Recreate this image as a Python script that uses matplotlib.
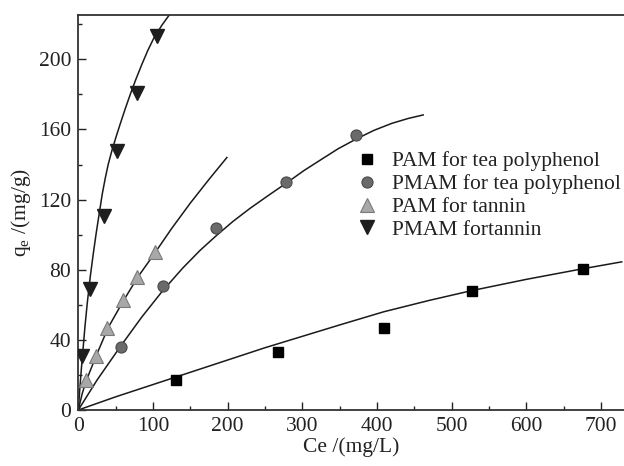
import matplotlib
matplotlib.use('Agg')
import matplotlib.pyplot as plt
from matplotlib.ticker import MultipleLocator

plt.rcParams['font.family'] = ['Liberation Serif', 'DejaVu Serif']
plt.rcParams['mathtext.fontset'] = 'custom'
plt.rcParams['mathtext.rm'] = 'Liberation Serif'
plt.rcParams['mathtext.it'] = 'Liberation Serif:italic'

# measured points
pam_tea_ce = [131, 268, 410, 527, 676]
pam_tea_q = [17, 33, 47, 68, 80.5]
pmam_tea_ce = [57, 113, 185, 278, 372]
pmam_tea_q = [35.7, 71, 103.7, 130, 156.7]
pam_tan_ce = [10, 24, 39, 60, 79, 103]
pam_tan_q = [17, 31, 47, 62.5, 76, 90]
pmam_tan_ce = [5, 15, 34, 52, 79, 106]
pmam_tan_q = [31, 69, 110.5, 148, 181, 213.5]

# fitted curves
fit_pam_tea_ce = [0, 50, 100, 150, 200, 250, 300, 350, 409, 470, 526, 600, 675, 728]
fit_pam_tea_q = [0, 7.5, 14.5, 21.5, 28.5, 35.5, 42, 48.5, 56, 62.5, 68, 74.5, 80.5, 84.5]
fit_pmam_tea_ce = [0, 25, 56, 85, 113, 140, 163, 185, 207, 230, 255, 279, 302, 324,
                   348, 372, 396, 420, 442, 462]
fit_pmam_tea_q = [0, 17, 36, 53, 68, 81, 91, 99.5, 107.5, 115, 122.5, 129.5, 136.5, 142.5,
                  149, 154.5, 159.5, 163.5, 166.3, 168.3]
fit_pam_tan_ce = [0, 5, 10, 24, 40, 60, 80, 100, 125, 150, 175, 199]
fit_pam_tan_q = [0, 9, 16, 31, 47, 62, 76, 88, 103.5, 118, 131.5, 144]
fit_pmam_tan_ce = [0, 2, 4, 6, 9, 12, 16, 20, 24, 28, 32, 36, 40, 45, 50, 56, 63,
                   70, 77, 85, 93, 101, 112, 123]
fit_pmam_tan_q = [0, 12, 23, 33, 48, 61, 76, 89, 101, 112, 123, 132, 140, 148, 155, 163, 172,
                  180.5, 188.5, 197, 205, 212, 219.5, 226]

legend_labels = ['PAM for tea polyphenol', 'PMAM for tea polyphenol',
                 'PAM for tannin', 'PMAM fortannin']

fig = plt.figure(figsize=(6.24, 4.66), dpi=100)
ax = fig.add_axes([0.1255, 0.1202, 0.8745, 0.8476])

line_kw = dict(color='#1a1a1a', lw=1.1, zorder=2)
ax.plot(fit_pam_tea_ce, fit_pam_tea_q, **line_kw)
ax.plot(fit_pmam_tea_ce, fit_pmam_tea_q, **line_kw)
ax.plot(fit_pam_tan_ce, fit_pam_tan_q, **line_kw)
ax.plot(fit_pmam_tan_ce, fit_pmam_tan_q, **line_kw)

h1, = ax.plot(pam_tea_ce, pam_tea_q, 's', ms=7.5, mfc='black', mec='black', zorder=3)
h2, = ax.plot(pmam_tea_ce, pmam_tea_q, 'o', ms=8, mfc='#6a6a6a', mec='#4a4a4a', mew=0.8, zorder=3)
h3, = ax.plot(pam_tan_ce, pam_tan_q, '^', ms=10, mfc='#a8a8a8', mec='#7a7a7a', mew=0.8, zorder=3)
h4, = ax.plot(pmam_tan_ce, pmam_tan_q, 'v', ms=10, mfc='#1e1e1e', mec='#1e1e1e', zorder=3)

ax.set_xlim(0, 731)
ax.set_ylim(0, 225.3)
ax.xaxis.set_major_locator(MultipleLocator(100))
ax.xaxis.set_minor_locator(MultipleLocator(50))
ax.yaxis.set_major_locator(MultipleLocator(40))
ax.yaxis.set_minor_locator(MultipleLocator(20))
ax.tick_params(which='both', direction='in', top=False, right=False,
               labelsize=15.5, colors='#222222', width=1)
ax.tick_params(which='major', length=6, pad=5)
ax.tick_params(which='minor', length=3)
for s in ['left', 'bottom', 'top']:
    ax.spines[s].set_linewidth(1.3)
    ax.spines[s].set_color('#333333')
ax.spines['right'].set_visible(False)

ax.set_xlabel('Ce /(mg/L)', fontsize=15.5, color='#222222', labelpad=1)
ax.set_ylabel(r'q$_{\mathregular{e}}$ /(mg/g)', fontsize=15.5, color='#222222', labelpad=4)

ax.legend([h1, h2, h3, h4], legend_labels, loc='upper left',
          bbox_to_anchor=(0.505, 0.655), frameon=False, fontsize=15.5,
          handletextpad=0.55, labelspacing=0.13, handlelength=1.2,
          borderaxespad=0, borderpad=0, labelcolor='#222222')

fig.savefig('out.png', dpi=100)
